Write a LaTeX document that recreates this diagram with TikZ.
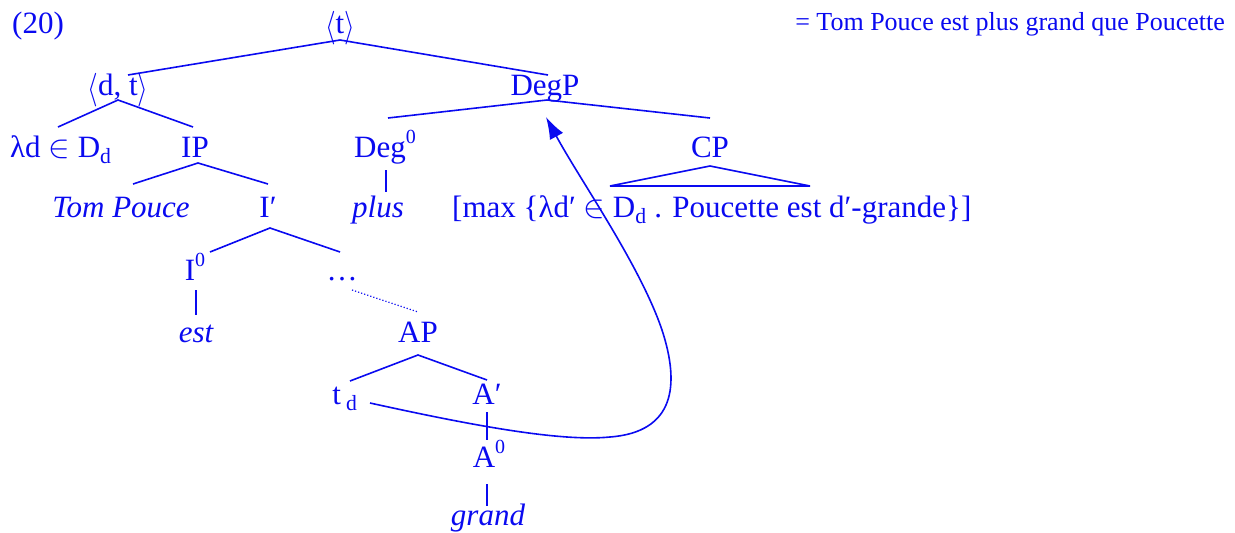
\documentclass[tikz,border=0pt]{standalone}
\usepackage{fontspec}
\setmainfont{Liberation Serif}
\usetikzlibrary{arrows.meta,calc}
\definecolor{tb}{RGB}{10,10,240}
\newcommand{\supz}{\raisebox{0.42em}{\fontsize{20}{20}\selectfont 0}}
\newcommand{\elem}{\ \raisebox{-0.02em}{\scalebox{1.3}{$\in$}}\ }
\newcommand{\lang}{\raisebox{-0.12em}{\scalebox{1.1}[1.35]{$\langle$}}}
\newcommand{\rang}{\raisebox{-0.12em}{\scalebox{1.1}[1.35]{$\rangle$}}}
\begin{document}
\begin{tikzpicture}[x=1pt,y=-1pt,
  lbl/.style={text=tb, font=\fontsize{31}{36}\selectfont, inner sep=0pt, anchor=base},
  br/.style={draw=tb, line width=1.6pt},
  dot/.style={draw=tb, line width=1.2pt, dotted}]
\useasboundingbox (0,0) rectangle (1235,533);
% labels
\node[lbl,anchor=base west] (ex) at (12,33) {(20)};
\node[lbl] (t) at (340,33) {\lang t\rang};
\node[lbl,anchor=base east,font=\fontsize{26}{30}\selectfont] (gl) at (1225,30) {= Tom Pouce est plus grand que Poucette};
\node[lbl] (dt) at (118,95) {\lang d, t\rang};
\node[lbl] (degp) at (545,95) {DegP};
\node[lbl,anchor=base west] (lam) at (10,157) {λd\elem D\textsubscript{d}};
\node[lbl] (ip) at (195,157) {IP};
\node[lbl] (deg) at (385,157) {Deg\supz};
\node[lbl] (cp) at (710,157) {CP};
\node[lbl] (tp) at (121,217) {\itshape Tom Pouce};
\node[lbl] (ib) at (268,217) {I′};
\node[lbl] (plus) at (378,217) {\itshape plus};
\node[lbl,anchor=base west] (max) at (452,217) {[max \{λd′\elem D\textsubscript{d} . Poucette est d′-grande\}]};
\node[lbl] (i0) at (195,280) {I\supz};
\node[lbl] (dots) at (342,280) {…};
\node[lbl] (est) at (196,342) {\itshape est};
\node[lbl] (ap) at (418,342) {AP};
\node[lbl] (td) at (345,404) {t\,\textsubscript{d}};
\node[lbl] (ab) at (487,404) {A′};
\node[lbl] (a0) at (489,467) {A\supz};
\node[lbl] (gr) at (488,525) {\itshape grand};
% branch points
\coordinate (t-a) at (340,40); \coordinate (t-l) at (128,75); \coordinate (t-r) at (548,75);
\coordinate (dt-a) at (118,100); \coordinate (dt-l) at (58,127); \coordinate (dt-r) at (193,127);
\coordinate (degp-a) at (547,100); \coordinate (degp-l) at (388,118); \coordinate (degp-r) at (710,118);
\coordinate (ip-a) at (198,163); \coordinate (ip-l) at (133,184); \coordinate (ip-r) at (268,184);
\coordinate (deg-a) at (386,170); \coordinate (deg-b) at (386,192);
\coordinate (cp-a) at (710,166); \coordinate (cp-l) at (610,186); \coordinate (cp-r) at (810,186);
\coordinate (ib-a) at (270,228); \coordinate (ib-l) at (210,252); \coordinate (ib-r) at (340,252);
\coordinate (i0-a) at (196,290); \coordinate (i0-b) at (196,315);
\coordinate (dots-a) at (352,290); \coordinate (dots-b) at (418,312);
\coordinate (ap-a) at (418,355); \coordinate (ap-l) at (350,381); \coordinate (ap-r) at (487,380);
\coordinate (ab-a) at (487,412); \coordinate (ab-b) at (487,440);
\coordinate (a0-a) at (487,484); \coordinate (a0-b) at (487,506);
\coordinate (mv-s) at (370,403); \coordinate (mv-e) at (546,117);
% branches
\draw[br] (t-l) -- (t-a) -- (t-r);
\draw[br] (dt-l) -- (dt-a) -- (dt-r);
\draw[br] (degp-l) -- (degp-a) -- (degp-r);
\draw[br] (ip-l) -- (ip-a) -- (ip-r);
\draw[br] (deg-a) -- (deg-b);
\draw[br] (cp-l) -- (cp-a) -- (cp-r) -- cycle;
\draw[br] (ib-l) -- (ib-a) -- (ib-r);
\draw[br] (i0-a) -- (i0-b);
\draw[dot] (dots-a) -- (dots-b);
\draw[br] (ap-l) -- (ap-a) -- (ap-r);
\draw[br] (ab-a) -- (ab-b);
\draw[br] (a0-a) -- (a0-b);
% movement arrow
\draw[draw=tb, line width=1.6pt, -{Latex[length=22pt,width=15pt]}]
  (mv-s) .. controls (470,425) and (560,442) .. (610,437)
  .. controls (675,432) and (680,385) .. (662,330)
  .. controls (640,265) and (580,180) .. (mv-e);
\end{tikzpicture}
\end{document}
